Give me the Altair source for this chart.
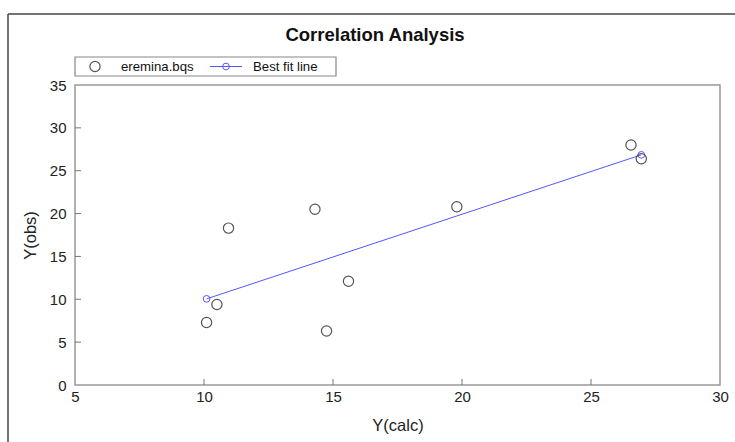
import altair as alt
import pandas as pd

# Observed vs. calculated values
y_calc = [10.1, 10.5, 10.95, 14.3, 14.75, 15.6, 19.8, 26.55, 26.95]
y_obs = [7.3, 9.4, 18.3, 20.5, 6.3, 12.1, 20.8, 28.0, 26.4]

# Best fit line endpoints
fit_x = [10.1, 26.95]
fit_y = [10.05, 26.85]

x_ticks = [5, 10, 15, 20, 25, 30]
y_ticks = [0, 5, 10, 15, 20, 25, 30, 35]

FONT = "Liberation Sans"
W, H = 645, 300

pts = pd.DataFrame({"calc": y_calc, "obs": y_obs})
fit = pd.DataFrame({"calc": fit_x, "obs": fit_y})
xt = pd.DataFrame({"v": x_ticks[1:-1]})
yt = pd.DataFrame({"v": y_ticks[1:-1]})

xs = alt.Scale(domain=[x_ticks[0], x_ticks[-1]], nice=False, zero=False)
ys = alt.Scale(domain=[y_ticks[0], y_ticks[-1]], nice=False, zero=False)

x_axis = alt.Axis(values=x_ticks, grid=False, ticks=False, domain=False,
                  labelFontSize=15, labelPadding=4, labelColor="#222",
                  labelFont=FONT, labelFlush=False, title="Y(calc)", titleFont=FONT,
                  titleFontSize=16.5, titleFontWeight="normal", titleColor="#222",
                  titlePadding=13)
y_axis = alt.Axis(values=y_ticks, grid=False, ticks=False, domain=False,
                  labelFontSize=15, labelPadding=9, labelColor="#222",
                  labelFont=FONT, labelFlush=False, title="Y(obs)", titleFont=FONT,
                  titleFontSize=16.5, titleFontWeight="normal", titleColor="#222",
                  titlePadding=11)

scatter = alt.Chart(pts).mark_point(
    shape="circle", size=105, filled=False, color="#555", strokeWidth=1.2, opacity=1
).encode(
    x=alt.X("calc:Q", scale=xs, axis=x_axis),
    y=alt.Y("obs:Q", scale=ys, axis=y_axis),
)

fit_line = alt.Chart(fit).mark_line(color="#5555ff", strokeWidth=1).encode(
    x=alt.X("calc:Q", scale=xs), y=alt.Y("obs:Q", scale=ys)
)
fit_pts = alt.Chart(fit).mark_point(
    shape="circle", size=45, filled=False, color="#5555ff", strokeWidth=1, opacity=1
).encode(x=alt.X("calc:Q", scale=xs), y=alt.Y("obs:Q", scale=ys))

# inward tick marks
x_tick_marks = alt.Chart(xt).mark_rule(color="#777", strokeWidth=1).encode(
    x=alt.X("v:Q", scale=xs), y=alt.value(H), y2=alt.value(H - 6)
)
y_tick_marks = alt.Chart(yt).mark_rule(color="#777", strokeWidth=1).encode(
    y=alt.Y("v:Q", scale=ys), x=alt.value(0), x2=alt.value(6)
)

one = alt.Data(values=[{}])

# outer frame (top and left edges)
frame_top = alt.Chart(one).mark_rule(color="#444", strokeWidth=1.5).encode(
    x=alt.value(-67), x2=alt.value(670), y=alt.value(-71)
)
frame_left = alt.Chart(one).mark_rule(color="#444", strokeWidth=1.5).encode(
    x=alt.value(-67), y=alt.value(-71), y2=alt.value(370)
)

title = alt.Chart(one).mark_text(
    font=FONT, fontSize=18.5, fontWeight="bold", color="#111", align="center", baseline="middle"
).encode(x=alt.value(300), y=alt.value(-50), text=alt.value("Correlation Analysis"))

# legend box
leg_box = alt.Chart(one).mark_rect(fill="white", stroke="#888", strokeWidth=1.2).encode(
    x=alt.value(0), x2=alt.value(261), y=alt.value(-28), y2=alt.value(-9)
)
leg_circle = alt.Chart(one).mark_point(
    shape="circle", size=105, filled=False, color="#555", strokeWidth=1.2, opacity=1
).encode(x=alt.value(20), y=alt.value(-18.5))
leg_line = alt.Chart(one).mark_rule(color="#5555ff", strokeWidth=1).encode(
    x=alt.value(135), x2=alt.value(167), y=alt.value(-18.5)
)
leg_fit_pt = alt.Chart(one).mark_point(
    shape="circle", size=45, filled=False, color="#5555ff", strokeWidth=1, opacity=1
).encode(x=alt.value(151), y=alt.value(-18.5))
leg_text1 = alt.Chart(one).mark_text(
    font=FONT, fontSize=13.2, color="#111", align="left", baseline="middle"
).encode(x=alt.value(46), y=alt.value(-18.5), text=alt.value("eremina.bqs"))
leg_text2 = alt.Chart(one).mark_text(
    font=FONT, fontSize=13.2, color="#111", align="left", baseline="middle"
).encode(x=alt.value(178), y=alt.value(-18.5), text=alt.value("Best fit line"))

chart = alt.layer(
    x_tick_marks, y_tick_marks, fit_line, fit_pts, scatter,
    frame_top, frame_left, title,
    leg_box, leg_circle, leg_line, leg_fit_pt, leg_text1, leg_text2,
).properties(
    width=W, height=H,
    autosize=alt.AutoSizeParams(type="none"),
    padding={"left": 75, "top": 85, "right": 15, "bottom": 57},
    background="white",
).configure_view(
    stroke="#999", strokeWidth=1.5
)

chart.save("out.html", embed_options={"renderer": "svg", "actions": False})
